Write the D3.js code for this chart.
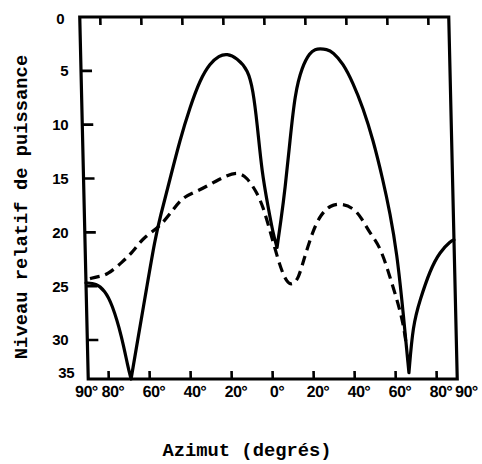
<!DOCTYPE html>
<html><head><meta charset="utf-8">
<script src="https://cdn.jsdelivr.net/npm/d3@7/dist/d3.min.js"></script>
<style>body{margin:0;background:#fff}</style>
</head><body>
<script>
// ---- data ----
const azimutTicks = [-90,-80,-60,-40,-20,0,20,40,60,80,90];
const azimutLabels = ["90°","80°","60°","40°","20°","0°","20°","40°","60°","80°","90°"];
const niveauTicks = [0,5,10,15,20,25,30,35];
const niveauLabels = ["0","5","10","15","20","25","30","35"];

// solid curve (azimut in degrees, relative level)
const solidAz  = [-90,-85,-81,-77.6,-73.1,-70.5,-69.1,
                  -65.8,-60.3,-55.9,-53.1,-47.9,-42.5,-37.3,-32.1,-27.0,-22.5,-18.6,-13.8,-8.5,-6.3,-4.7,-2.9,-0.3,1.8,3.6,
                  5.8,8.1,11.2,14.1,17.9,21.9,24.5,26.8,30.0,33.1,37.9,42.5,47.1,51.7,56.0,59.1,62.0,64.3,66.5,
                  69.0,72.7,78.0,83.0,88.5,90];
const solidNiv = [24.7,24.75,25.4,26.6,29.7,33.5,35,
                  30.5,25.0,20.7,18.6,15.1,11.4,8.4,5.85,4.3,3.6,3.4,3.8,4.9,6.8,9.8,14.5,17.6,20.1,21.4,
                  18.9,16.1,11.4,7.1,4.6,3.3,3.0,2.95,3.0,3.25,4.3,6.1,8.4,11.4,15.1,18.2,21.9,27.2,34.2,
                  28.6,26.3,23.5,21.8,20.8,20.7];
const solidCusps = [-69.1, 3.6, 66.5];

// dashed curve
const dashedAz  = [-88.0,-84,-79.7,-71.7,-66.7,-61.7,-53.3,-46.7,-41.7,-34.8,-26.9,-20.0,-14.6,-10.2,-5.6,-2.8,0.3,4.8,8.0,11.0,
                   13.8,16.1,21.3,25.5,30.0,35.0,41.1,45.0,49.1,53.9,58.3,62.0,64.2,65.4];
const dashedNiv = [24.3,24.1,24.0,22.7,21.8,20.5,19.5,17.9,16.7,16.2,15.4,14.7,14.4,14.9,16.3,17.6,19.8,23.2,24.7,24.9,
                   24.2,22.8,19.8,18.3,17.5,17.3,17.7,18.6,20.1,21.3,24.1,26.6,28.4,30.3];

// ---- drawing ----
const W = 482, H = 464;
const svg = d3.select("body").append("svg").attr("width", W).attr("height", H)
  .style("background","#fff");

const x = d3.scaleLinear().domain([-90, 90]).range([84, 453]);
const y = d3.scaleLinear().domain([0, 30, 35]).range([17, 340, 379]);

// plot group, slightly skewed like the scanned original
const g = svg.append("g").attr("transform", "translate(-4.65,0) skewX(1.345)");

const line = d3.line().x(d => x(d[0])).y(d => y(d[1])).curve(d3.curveBasis);

function segments(az, niv, cusps) {
  const pts = az.map((a, i) => [a, niv[i]]);
  const segs = []; let cur = [];
  pts.forEach(p => {
    cur.push(p);
    if (cusps.includes(p[0])) { segs.push(cur); cur = [p]; }
  });
  if (cur.length > 1) segs.push(cur);
  return segs.map(s => line(s)).join("");
}

g.append("path").attr("d", segments(solidAz, solidNiv, solidCusps))
  .attr("fill", "none").attr("stroke", "#000").attr("stroke-width", 3.2)
  .attr("stroke-linejoin", "round").attr("stroke-linecap", "round");

g.append("path").attr("d", line(dashedAz.map((a, i) => [a, dashedNiv[i]])))
  .attr("fill", "none").attr("stroke", "#000").attr("stroke-width", 3.2)
  .attr("stroke-dasharray", "10,6").attr("stroke-linecap", "butt");

// frame
g.append("rect").attr("x", x(-90)).attr("y", y(0))
  .attr("width", x(90) - x(-90)).attr("height", y(35) - y(0))
  .attr("fill", "none").attr("stroke", "#000").attr("stroke-width", 3.2);

// inward ticks top and bottom
const innerX = azimutTicks.filter(d => Math.abs(d) < 90);
g.selectAll(".tt").data(innerX).enter().append("line")
  .attr("x1", d => x(d)).attr("x2", d => x(d))
  .attr("y1", y(0)).attr("y2", y(0) + 8)
  .attr("stroke", "#000").attr("stroke-width", 2.6);
g.selectAll(".tb").data(innerX).enter().append("line")
  .attr("x1", d => x(d)).attr("x2", d => x(d))
  .attr("y1", y(35)).attr("y2", y(35) - 8)
  .attr("stroke", "#000").attr("stroke-width", 2.6);
// inward ticks left
const innerY = niveauTicks.filter(d => d > 0 && d < 35);
g.selectAll(".tl").data(innerY).enter().append("line")
  .attr("x1", x(-90)).attr("x2", x(-90) + 11)
  .attr("y1", d => y(d)).attr("y2", d => y(d))
  .attr("stroke", "#000").attr("stroke-width", 2.6);

// x tick labels
const xdx = d => d === -90 ? -2 : (d === 90 ? 9 : 4);
g.selectAll(".xl").data(azimutTicks).enter().append("text")
  .attr("x", d => x(d) + xdx(d)).attr("y", 397)
  .attr("text-anchor", "middle")
  .attr("font-family", "Liberation Sans, Arial, sans-serif").attr("font-weight", "bold")
  .attr("font-size", 16).attr("letter-spacing", -0.5)
  .text((d, i) => azimutLabels[i]);

// y tick labels
svg.selectAll(".yl").data(niveauTicks).enter().append("text")
  .attr("x", d => d === 0 ? 64 : (d === 35 ? 74 : 68))
  .attr("y", d => y(d) + (d === 35 ? -6 : (d === 0 ? 2 : 0)))
  .attr("dy", "0.36em")
  .attr("text-anchor", "end")
  .attr("font-family", "Liberation Sans, Arial, sans-serif").attr("font-weight", "bold")
  .attr("font-size", 15).attr("letter-spacing", -0.5)
  .text((d, i) => niveauLabels[i]);

// axis titles
svg.append("text").attr("transform", "translate(27,207) rotate(-90)")
  .attr("text-anchor", "middle")
  .attr("font-family", "Liberation Mono, Courier New, monospace").attr("font-weight", "bold")
  .attr("font-size", 18.8)
  .text("Niveau relatif de puissance");

svg.append("text").attr("x", 247).attr("y", 456)
  .attr("text-anchor", "middle")
  .attr("font-family", "Liberation Mono, Courier New, monospace").attr("font-weight", "bold")
  .attr("font-size", 18.8)
  .text("Azimut (degrés)");
</script>
</body></html>
